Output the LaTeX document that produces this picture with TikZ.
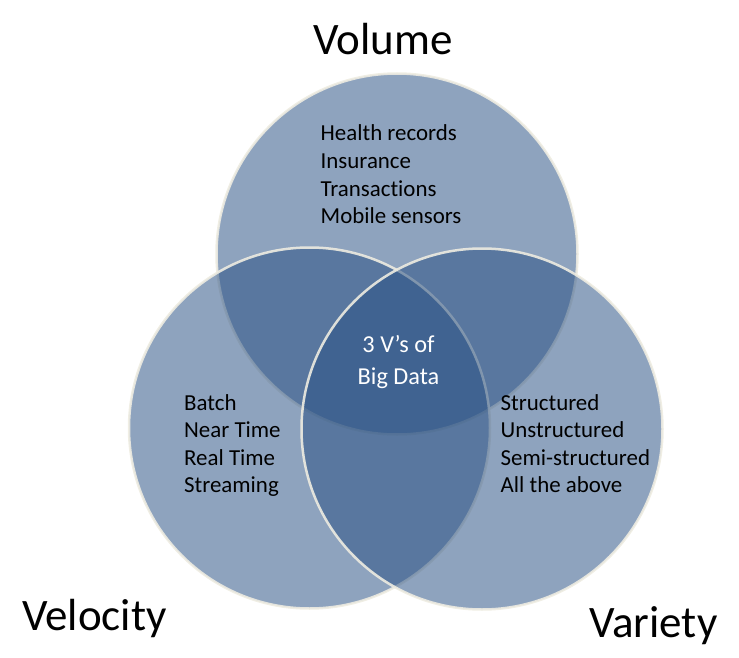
\documentclass[tikz,border=0pt]{standalone}
\usepackage{fontspec}
\setmainfont{Carlito}[Ligatures=NoCommon]
\definecolor{vennfill}{RGB}{42,81,132}
\definecolor{vennline}{RGB}{238,236,225}
\tikzset{
  venn/.style={circle, minimum size=361pt, inner sep=0pt, fill=vennfill, fill opacity=0.53,
    draw=vennline, draw opacity=0.9, line width=2.5pt},
  title/.style={anchor=base west, inner sep=0pt, font=\fontsize{45}{54}\selectfont, text=black},
  item/.style={anchor=base west, inner sep=0pt, font=\fontsize{22.9}{27}\selectfont, text=black},
  core/.style={anchor=base, inner sep=0pt, font=\fontsize{24.3}{31}\selectfont, text=white}
}
\begin{document}
\begin{tikzpicture}[x=1pt, y=-1pt]
\useasboundingbox (0,0) rectangle (739,658);
\node[venn] (vol) at (397,254) {};
\node[venn] (vel) at (309.5,428) {};
\node[venn] (var) at (482,429) {};
\node[title] (tvol) at (313,55) {Volume};
\node[title] (tvel) at (22,630) {Velocity};
\node[title] (tvar) at (589,637) {Variety};
\foreach \t [count=\i] in {Health records, Insurance, Transactions, Mobile sensors}
  \node[item] (a\i) at (320.5, 113.5+27.5*\i) {\t};
\foreach \t [count=\i] in {Batch, Near Time, Real Time, Streaming}
  \node[item] (b\i) at (184, 382.5+27.5*\i) {\t};
\foreach \t [count=\i] in {Structured, Unstructured, Semi-structured, All the above}
  \node[item] (c\i) at (500.5, 382.5+27.5*\i) {\t};
\node[core] (m1) at (398.5,352.5) {3 V’s of};
\node[core] (m2) at (398.5,384) {Big Data};
\end{tikzpicture}
\end{document}
